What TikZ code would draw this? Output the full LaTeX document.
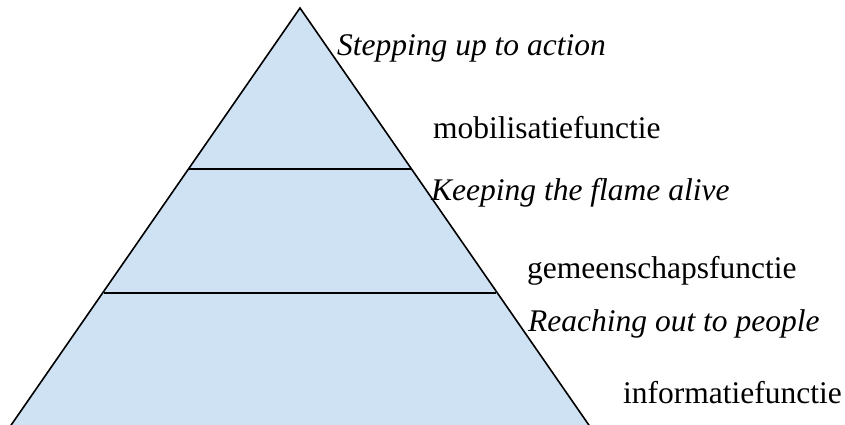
\documentclass[tikz,border=0pt]{standalone}
\usepackage{fontspec}
\setmainfont{Liberation Serif}
\definecolor{pyrfill}{HTML}{CFE2F3}
\begin{document}
\begin{tikzpicture}[x=1pt,y=-1pt,
  edge/.style={line width=1.6pt,line join=miter},
  lbl/.style={inner sep=0pt,anchor=base west,font=\fontsize{31.5}{36}\selectfont}]
\useasboundingbox (0,0) rectangle (845,425);
\clip (0,0) rectangle (845,425);
\coordinate (apex) at (300,8);
\coordinate (bl) at (-2,444);
\coordinate (br) at (602,444);
\coordinate (l1a) at (189,169);
\coordinate (l1b) at (411,169);
\coordinate (l2a) at (104,293);
\coordinate (l2b) at (496,293);
\fill[pyrfill] (bl) -- (apex) -- (br) -- cycle;
\draw[edge] (bl) -- (apex) -- (br);
\draw[edge] (l1a) -- (l1b);
\draw[edge] (l2a) -- (l2b);
\node[lbl] (t1) at (337,56) {\textit{Stepping up to action}};
\node[lbl] (t2) at (433,138) {mobilisatiefunctie};
\node[lbl] (t3) at (431,200) {\textit{Keeping the flame alive}};
\node[lbl] (t4) at (527,278) {gemeenschapsfunctie};
\node[lbl] (t5) at (528,331) {\textit{Reaching out to people}};
\node[lbl] (t6) at (623,403) {informatiefunctie};
\end{tikzpicture}
\end{document}
